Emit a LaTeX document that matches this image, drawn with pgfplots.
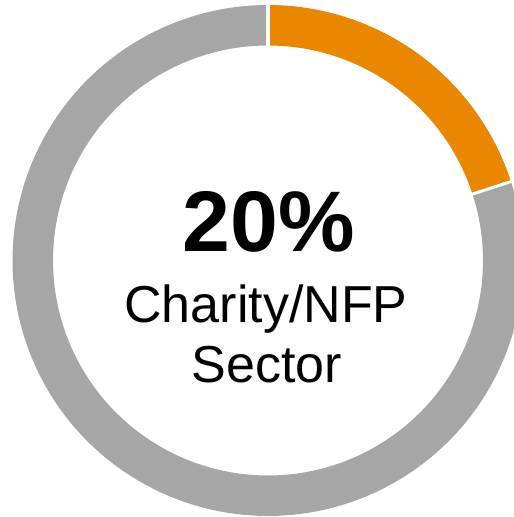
\documentclass[border=0pt]{standalone}
\usepackage{fontspec}
\setmainfont{Liberation Sans}
\usepackage{pgfplots}
\usepackage{pgfplotstable}
\pgfplotsset{compat=1.18}
\definecolor{segorange}{RGB}{233,135,0}
\definecolor{seggray}{RGB}{166,166,166}
\pgfplotstableread{
label value
Charity 20
Other 80
}\shares
\pgfplotstablegetelem{0}{value}\of\shares \let\vA\pgfplotsretval
\pgfplotstablegetelem{1}{value}\of\shares \let\vB\pgfplotsretval
\pgfmathsetmacro{\aStart}{90}
\pgfmathsetmacro{\aMid}{90-3.6*\vA}
\pgfmathsetmacro{\aEnd}{\aMid-3.6*\vB}
\def\cx{268}
\def\cy{256.5}
\def\rmid{235.25}
\begin{document}
\begin{tikzpicture}
\begin{axis}[
  hide axis, scale only axis,
  width=514pt, height=517pt,
  xmin=0, xmax=514, ymin=0, ymax=517,
  clip=true,
]
\addplot[draw=segorange, line width=40.5pt, line cap=butt, domain=\aMid:\aStart, samples=80, smooth]
  ({\cx+\rmid*cos(x)},{\cy+\rmid*sin(x)});
\addplot[draw=seggray, line width=40.5pt, line cap=butt, domain=\aEnd:\aMid, samples=300, smooth]
  ({\cx+\rmid*cos(x)},{\cy+\rmid*sin(x)});
\addplot[draw=white, line width=3.5pt, domain=212:258, samples=2]
  ({\cx+x*cos(\aStart)},{\cy+x*sin(\aStart)});
\addplot[draw=white, line width=3pt, domain=212:258, samples=2]
  ({\cx+x*cos(\aMid)},{\cy+x*sin(\aMid)});
\node[anchor=base, inner sep=0pt] at (axis cs:269,265) {\fontsize{86}{90}\selectfont\bfseries 20\%};
\node[anchor=base, inner sep=0pt] at (axis cs:266,194) {\fontsize{52}{60}\selectfont Charity/NFP};
\node[anchor=base, inner sep=0pt] at (axis cs:267,135) {\fontsize{52}{60}\selectfont Sector};
\end{axis}
\pgfresetboundingbox
\path[use as bounding box] (current axis.south west) rectangle (current axis.north east);
\end{tikzpicture}
\end{document}
